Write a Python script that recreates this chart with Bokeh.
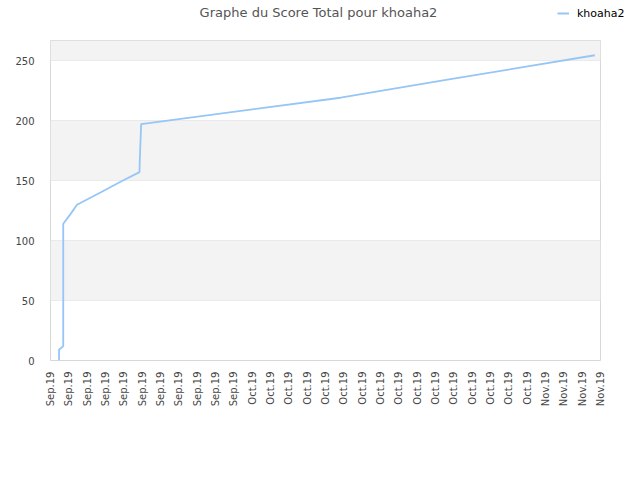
from bokeh.plotting import figure
from bokeh.models import (Range1d, FixedTicker, BoxAnnotation, Label, Legend, LegendItem)
from bokeh.embed import file_html
from bokeh.resources import INLINE

# --- data (x in days since Sep 9, 2019) ---
days = [0.93, 0.93, 1.39, 1.39, 2.18, 2.91, 3.20, 5.45, 7.64, 9.71, 9.74, 9.89, 31.64, 43.64, 59.38]
score = [0, 9, 12, 114, 122, 130, 131, 140, 149, 157, 167, 197, 219, 234.5, 254.4]

tick_days = list(range(0, 61, 2))
tick_labels = ["Sep.19"] * 11 + ["Oct.19"] * 16 + ["Nov.19"] * 4
y_ticks = [0, 50, 100, 150, 200, 250]
y_max = 266.7
series_name = "khoaha2"
title_text = "Graphe du Score Total pour khoaha2"

FONT = "DejaVu Sans"
LINE_COLOR = "#96c6f5"
W = 624

# ---------- header strip: title + legend ----------
head = figure(width=W, height=40, output_backend="svg", toolbar_location=None,
              x_range=Range1d(0, 1), y_range=Range1d(0, 1),
              min_border=0, min_border_left=0, min_border_right=0,
              min_border_top=0, min_border_bottom=0)
head.axis.visible = False
head.grid.visible = False
head.outline_line_color = None
head.background_fill_color = "white"
head.border_fill_color = "white"
head.add_layout(Label(x=318, y=28, x_units="screen", y_units="screen", text=title_text,
                      text_font=FONT, text_font_size="13px", text_color="#555555",
                      text_align="center", text_baseline="middle"))
# single-point line (draws nothing itself) used only to give the legend its glyph
rl = head.line(x=days[:1], y=score[:1], line_color=LINE_COLOR, line_width=2)
legend = Legend(items=[LegendItem(label=series_name, renderers=[rl])],
                location=(557, 20), padding=0, margin=0, spacing=0,
                glyph_width=12, glyph_height=14, label_height=14, label_standoff=8,
                label_text_font=FONT, label_text_font_size="11px", label_text_color="#000000",
                label_text_baseline="middle",
                border_line_color=None, background_fill_alpha=0)
head.add_layout(legend, "center")

# ---------- main chart ----------
p = figure(width=W, height=424, output_backend="svg", toolbar_location=None,
           x_range=Range1d(0, 60), y_range=Range1d(0, y_max),
           min_border_left=50, min_border_right=24, min_border_top=0, min_border_bottom=104)
p.background_fill_color = "white"
p.border_fill_color = "white"
p.outline_line_color = "#d8d8d8"

# alternating bands
for i in range(len(y_ticks)):
    lo = y_ticks[i]
    hi = y_ticks[i + 1] if i + 1 < len(y_ticks) else y_max
    if i % 2 == 1:
        p.add_layout(BoxAnnotation(bottom=lo, top=hi, fill_color="#f3f3f3", fill_alpha=1.0,
                                   line_color=None, level="underlay"))
    elif i == len(y_ticks) - 1:
        p.add_layout(BoxAnnotation(bottom=lo, top=hi, fill_color="#eeeeee", fill_alpha=1.0,
                                   line_color=None, level="underlay"))

r = p.line(days, score, line_color=LINE_COLOR, line_width=1.8)

# axes
p.xaxis.ticker = FixedTicker(ticks=tick_days)
p.xaxis.major_label_overrides = {d: lab for d, lab in zip(tick_days, tick_labels)}
p.xaxis.major_label_orientation = 1.5708
p.yaxis.ticker = FixedTicker(ticks=y_ticks)
for ax in (p.xaxis[0], p.yaxis[0]):
    ax.axis_line_color = None
    ax.major_tick_line_color = None
    ax.minor_tick_line_color = None
    ax.major_label_text_font = FONT
    ax.major_label_text_font_size = "10px"
    ax.major_label_text_color = "#444444"
p.xaxis.major_label_standoff = 5
p.yaxis.major_label_standoff = 10

p.xgrid.grid_line_color = None
p.ygrid.ticker = FixedTicker(ticks=y_ticks)
p.ygrid.grid_line_color = "#e0e0e0"
p.ygrid.grid_line_width = 1

open("out.html", "w").write(file_html([head, p], INLINE))
